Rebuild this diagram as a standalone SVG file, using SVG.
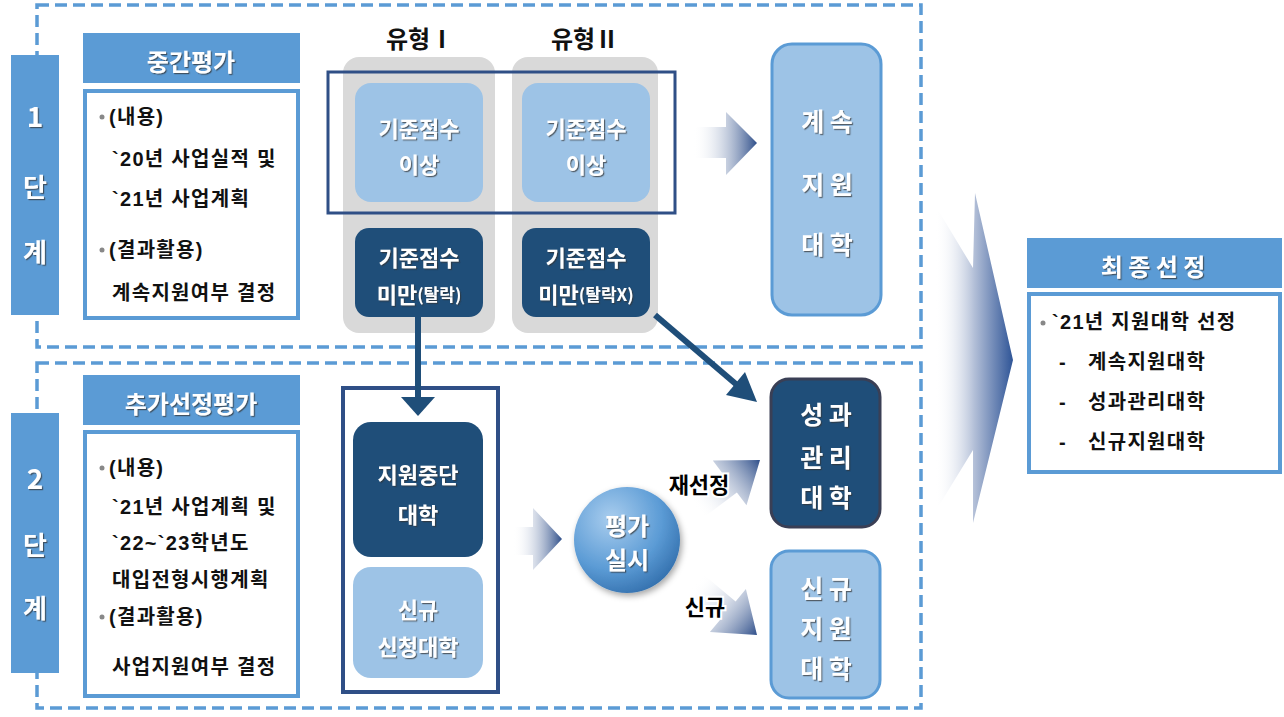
<svg xmlns="http://www.w3.org/2000/svg" width="1284" height="717" viewBox="0 0 1284 717">
<defs>
<style>
text{font-family:"Noto Sans CJK KR","Noto Sans",sans-serif;font-weight:700;text-anchor:middle;dominant-baseline:central}
.w{fill:#fff;filter:url(#ts)}
.b{fill:#111}
.lt{font-family:"Liberation Sans","Noto Sans CJK KR",sans-serif;font-size:20px;letter-spacing:1.3px;text-anchor:start;fill:#111}
.hd{fill:#5b9bd5}
.cb{fill:#fff;stroke:#5b9bd5;stroke-width:4}
.dash{fill:none;stroke:#5b9bd5;stroke-width:3.5;stroke-dasharray:12 6}
.gray{fill:#d9d9d9}
.lb{fill:#9dc3e6}
.db{fill:#1f4e79}
.blk{fill:url(#ag)}
.halo{fill:#000;stroke:#fff;stroke-width:4;paint-order:stroke;font-size:22px}
</style>
<filter id="ts" x="-20%" y="-20%" width="140%" height="140%"><feDropShadow dx="1.2" dy="1.2" stdDeviation="0.6" flood-color="#333" flood-opacity="0.7"/></filter>
<filter id="cs" x="-20%" y="-20%" width="150%" height="150%"><feDropShadow dx="2" dy="3" stdDeviation="3" flood-color="#000" flood-opacity="0.35"/></filter>
<linearGradient id="ag" x1="0" y1="0" x2="1" y2="0"><stop offset="0" stop-color="#ffffff" stop-opacity="0"/><stop offset="1" stop-color="#2f4f8a"/></linearGradient>
<linearGradient id="cg" x1="0" y1="0" x2="1" y2="0"><stop offset="0" stop-color="#ffffff" stop-opacity="0"/><stop offset="0.5" stop-color="#b4c0d8"/><stop offset="1" stop-color="#2f5597"/></linearGradient>
<radialGradient id="rg" cx="0.35" cy="0.3" r="0.8"><stop offset="0" stop-color="#a9cdee"/><stop offset="0.6" stop-color="#5b9bd5"/><stop offset="1" stop-color="#2e6aa8"/></radialGradient>
</defs>
<rect width="1284" height="717" fill="#fff"/>

<g id="frames">
<rect class="dash" x="37" y="5" width="884" height="342"/>
<rect class="dash" x="37" y="363" width="884" height="345"/>
</g>

<g id="big-chevron">
<path d="M935,205 L973,268 L975,193 L1013,360 L973,523 L973,450 L935,512 Z" fill="url(#cg)"/>
</g>

<g id="stage1">
<rect x="11" y="55" width="48" height="260" fill="#5b9bd5"/>
<text class="w" x="35" y="115" font-size="28">1</text>
<text class="w" x="35" y="185" font-size="26">단</text>
<text class="w" x="35" y="250" font-size="26">계</text>
</g>
<g id="stage2">
<rect x="11" y="413" width="48" height="260" fill="#5b9bd5"/>
<text class="w" x="35" y="477" font-size="28">2</text>
<text class="w" x="35" y="543" font-size="26">단</text>
<text class="w" x="35" y="606" font-size="26">계</text>
</g>

<g id="mid-eval">
<rect class="hd" x="83" y="33" width="217" height="50"/>
<text class="w" x="191" y="60" font-size="24">중간평가</text>
<rect class="cb" x="85" y="91" width="213" height="227"/>
<circle cx="102" cy="117" r="2.5" fill="#888"/>
<text class="lt" x="109" y="117">(내용)</text>
<text class="lt" x="112" y="159">`20년 사업실적 및</text>
<text class="lt" x="112" y="199">`21년 사업계획</text>
<circle cx="102" cy="250" r="2.5" fill="#888"/>
<text class="lt" x="109" y="250">(결과활용)</text>
<text class="lt" x="112" y="293">계속지원여부 결정</text>
</g>

<g id="add-eval">
<rect class="hd" x="83" y="375" width="217" height="50"/>
<text class="w" x="191" y="402" font-size="24">추가선정평가</text>
<rect class="cb" x="85" y="432" width="213" height="264"/>
<circle cx="102" cy="468" r="2.5" fill="#888"/>
<text class="lt" x="109" y="468">(내용)</text>
<text class="lt" x="112" y="507">`21년 사업계획 및</text>
<text class="lt" x="112" y="543">`22~`23학년도</text>
<text class="lt" x="112" y="580">대입전형시행계획</text>
<circle cx="102" cy="617" r="2.5" fill="#888"/>
<text class="lt" x="109" y="617">(결과활용)</text>
<text class="lt" x="112" y="667">사업지원여부 결정</text>
</g>

<g id="type1">
<text class="b" x="420" y="37" font-size="24">유형Ⅰ</text>
<rect class="gray" x="343" y="57" width="152" height="276" rx="16"/>
</g>
<g id="type2">
<text class="b" x="585" y="37" font-size="24">유형Ⅱ</text>
<rect class="gray" x="512" y="57" width="146" height="276" rx="16"/>
</g>

<g id="above-group">
<rect x="328" y="72" width="347" height="141" fill="none" stroke="#2f4f86" stroke-width="3"/>
</g>
<g id="above1">
<rect class="lb" x="355" y="83" width="128" height="119" rx="16"/>
<text class="w" x="419" y="127" font-size="22">기준점수</text>
<text class="w" x="419" y="163" font-size="22">이상</text>
</g>
<g id="above2">
<rect class="lb" x="522" y="83" width="128" height="119" rx="16"/>
<text class="w" x="586" y="127" font-size="22">기준점수</text>
<text class="w" x="586" y="163" font-size="22">이상</text>
</g>
<g id="below1">
<rect class="db" x="355" y="228" width="128" height="89" rx="14"/>
<text class="w" x="419" y="256" font-size="22">기준점수</text>
<text class="w" x="419" y="293" font-size="22">미만<tspan font-size="17">(탈락)</tspan></text>
</g>
<g id="below2">
<rect class="db" x="522" y="228" width="128" height="89" rx="14"/>
<text class="w" x="586" y="256" font-size="22">기준점수</text>
<text class="w" x="586" y="293" font-size="22">미만<tspan font-size="17">(탈락X)</tspan></text>
</g>

<g id="continue">
<rect x="772" y="44" width="109" height="271" rx="20" fill="#9dc3e6" stroke="#5b9bd5" stroke-width="3"/>
<text class="w" x="827" y="120" font-size="25">계 속</text>
<text class="w" x="827" y="183" font-size="25">지 원</text>
<text class="w" x="827" y="243" font-size="25">대 학</text>
</g>

<g id="stage2-set">
<rect x="343" y="388" width="155" height="304" fill="#fff" stroke="#2f4f86" stroke-width="4"/>
</g>
<g id="stopped">
<rect class="db" x="353" y="422" width="130" height="135" rx="18"/>
<text class="w" x="418" y="473" font-size="22">지원중단</text>
<text class="w" x="418" y="513" font-size="22">대학</text>
</g>
<g id="new-apply">
<rect class="lb" x="353" y="567" width="130" height="111" rx="18"/>
<text class="w" x="418" y="608" font-size="22">신규</text>
<text class="w" x="418" y="645" font-size="22">신청대학</text>
</g>

<g id="evaluate">
<circle cx="627" cy="540" r="53" fill="url(#rg)" filter="url(#cs)"/>
<text class="w" x="627" y="524" font-size="24">평가</text>
<text class="w" x="627" y="558" font-size="24">실시</text>
</g>

<g id="perf">
<rect x="771" y="379" width="109" height="148" rx="18" fill="#1f4e79" stroke="#3a3f55" stroke-width="3"/>
<text class="w" x="826" y="413" font-size="25">성 과</text>
<text class="w" x="826" y="456" font-size="25">관 리</text>
<text class="w" x="826" y="496" font-size="25">대 학</text>
</g>
<g id="newsupport">
<rect x="771" y="551" width="109" height="147" rx="18" fill="#9dc3e6" stroke="#5b9bd5" stroke-width="3"/>
<text class="w" x="826" y="587" font-size="25">신 규</text>
<text class="w" x="826" y="627" font-size="25">지 원</text>
<text class="w" x="826" y="667" font-size="25">대 학</text>
</g>

<g id="final">
<rect class="hd" x="1027" y="238" width="255" height="50"/>
<text class="w" x="1153" y="265" font-size="24">최 종 선 정</text>
<rect class="cb" x="1029" y="294" width="251" height="178"/>
<circle cx="1043" cy="323" r="2.5" fill="#888"/>
<text class="lt" x="1052" y="322">`21년 지원대학 선정</text>
<text class="lt" x="1059" y="362">-</text>
<text class="lt" x="1088" y="362">계속지원대학</text>
<text class="lt" x="1059" y="402">-</text>
<text class="lt" x="1088" y="402">성과관리대학</text>
<text class="lt" x="1059" y="442">-</text>
<text class="lt" x="1088" y="442">신규지원대학</text>
</g>

<g id="connectors">
<polygon class="blk" points="693,127 726,127 726,112 757,143 726,175 726,158 693,158"/>
<polygon class="blk" points="513,527 533,527 533,508 562,539 533,570 533,555 513,555"/>
<line x1="418" y1="317" x2="418" y2="399" stroke="#1f4e79" stroke-width="6"/>
<polygon points="401,397 435,397 418,416" fill="#1f4e79"/>
<line x1="655" y1="315" x2="737" y2="385" stroke="#1f4e79" stroke-width="6"/>
<polygon points="757,402 726,395 745,372" fill="#1f4e79"/>
<g transform="translate(760,460) rotate(-37)"><polygon class="blk" points="-80,-12 -38,-12 -38,-28 0,0 -38,28 -38,12 -80,12"/></g>
<g transform="translate(757,635) rotate(40)"><polygon class="blk" points="-80,-12 -38,-12 -38,-28 0,0 -38,28 -38,12 -80,12"/></g>
<text class="halo" x="699" y="483">재선정</text>
<text class="halo" x="705" y="605">신규</text>
</g>
</svg>
